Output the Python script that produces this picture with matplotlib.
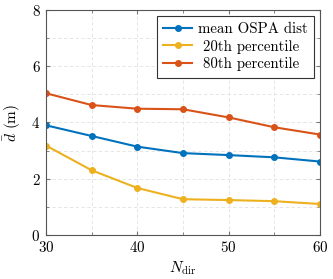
import numpy as np
import matplotlib
matplotlib.use("Agg")
import matplotlib.pyplot as plt
from matplotlib.ticker import MultipleLocator

plt.rcParams['font.family'] = 'serif'
plt.rcParams['font.serif'] = ['cmr10']
plt.rcParams['mathtext.fontset'] = 'cm'
plt.rcParams['axes.formatter.use_mathtext'] = True

# data
n_dir = [30, 35, 40, 45, 50, 55, 60]
mean_ospa = [3.90, 3.52, 3.14, 2.91, 2.84, 2.76, 2.61]
p20 = [3.18, 2.30, 1.67, 1.27, 1.24, 1.20, 1.10]
p80 = [5.04, 4.62, 4.49, 4.47, 4.18, 3.83, 3.57]

fig = plt.figure(figsize=(3.33, 2.79), dpi=100)
ax = fig.add_axes([0.138, 0.158, 0.823, 0.806])

ax.plot(n_dir, mean_ospa, '-o', color='#0072BD', lw=1.5, ms=4, label='mean OSPA dist')
ax.plot(n_dir, p20, '-o', color='#EDB120', lw=1.5, ms=4, label=' 20th percentile')
ax.plot(n_dir, p80, '-o', color='#D95319', lw=1.5, ms=4, label=' 80th percentile')

ax.set_xlim(30, 60)
ax.set_ylim(0, 8)
ax.xaxis.set_major_locator(MultipleLocator(10))
ax.xaxis.set_minor_locator(MultipleLocator(5))
ax.yaxis.set_major_locator(MultipleLocator(2))
ax.yaxis.set_minor_locator(MultipleLocator(1))
ax.grid(True, which='both', ls=(0, (4, 3)), color='#e0e0e0', lw=0.6)
ax.set_axisbelow(True)
ax.tick_params(which='both', direction='in', top=True, right=True, labelsize=10.8, color='#777777')
ax.tick_params(which='major', length=3, pad=4)
ax.tick_params(which='minor', length=2)
for s in ax.spines.values():
    s.set_color('#555555')
    s.set_linewidth(0.8)

ax.set_xlabel(r'$N_{\mathrm{dir}}$', fontsize=11, labelpad=3)
ax.set_ylabel(r'$\bar{d}$ (m)', fontsize=11, labelpad=6)

leg = ax.legend(loc='upper right', fontsize=10.7, fancybox=False, edgecolor='#333333',
                handlelength=1.9, borderpad=0.45, labelspacing=0.22, handletextpad=0.4,
                borderaxespad=0.4, framealpha=1)
leg.get_frame().set_linewidth(0.8)

fig.savefig('out.png', dpi=100)
